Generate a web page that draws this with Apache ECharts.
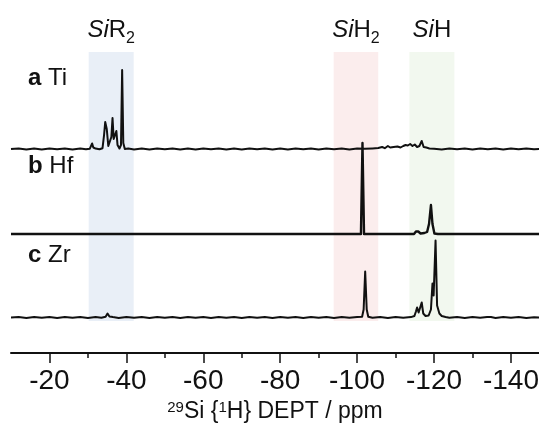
<!DOCTYPE html>
<html>
<head>
<meta charset="utf-8">
<script src="https://cdn.jsdelivr.net/npm/echarts@6/dist/echarts.min.js"></script>
<style>
html,body{margin:0;padding:0;background:#fff;}
#chart{width:539px;height:433px;}
</style>
</head>
<body>
<div id="chart"></div>
<script>
// ---- data (ppm, intensity) ----
const majorTicks = [-20, -40, -60, -80, -100, -120, -140];
const minorTicks = [-30, -50, -70, -90, -110, -130];
const axisName = '{sup|29}Si {{sup|1}H} DEPT / ppm';
const traceLabels = ['a', 'b', 'c'];
const traceMetals = ['Ti', 'Hf', 'Zr'];
const bandNames = ['SiR2', 'SiH2', 'SiH'];
const bandRanges = [[-30.2, -41.9], [-93.9, -105.5], [-113.6, -125.3]];

const traceA = [
  [-10,0],[-12,0.6],[-14,-0.4],[-16,0.5],[-18,-0.5],[-20,0.4],[-22,-0.3],[-24,0.6],[-26,-0.4],[-28,0.4],[-29.5,-0.3],
  [-30.5,0.3],[-30.9,1.5],[-31.1,5.5],[-31.4,1.5],[-32,0.4],[-33,-0.3],[-33.8,0.8],[-34.2,14],[-34.5,27],[-34.9,20],[-35.3,3],
  [-35.8,1],[-36.1,12],[-36.4,31],[-36.7,10],[-37.1,8],[-37.4,18],[-37.7,4],[-38.2,0.5],[-38.6,4],[-38.9,79],[-39.2,6],[-39.6,0],
  [-40.5,0.5],[-42,-0.4],[-44,0.5],[-46,-0.4],[-48,0.5],[-50,-0.3],[-52,0.6],[-54,-0.5],[-56,0.4],[-58,-0.4],[-60,0.5],
  [-62,-0.3],[-64,0.5],[-66,-0.5],[-68,0.4],[-70,-0.4],[-72,0.5],[-74,-0.3],[-76,0.4],[-78,-0.5],[-80,0.5],[-82,-0.4],
  [-84,0.4],[-86,-0.3],[-88,0.5],[-90,-0.4],[-92,0.4],[-94,-0.3],[-96,0.5],[-98,-0.4],[-100,0.4],[-102,0.2],[-104,0.6],
  [-105.5,1],[-106.5,2],[-107.2,0.8],[-108,3],[-108.6,1.5],[-109.5,2],[-110.5,2.5],[-111.3,1.5],[-112,3],[-112.6,4],[-113.2,3.5],
  [-113.8,5],[-114.4,3],[-115,4.5],[-115.6,2],[-116.2,3],[-116.8,8],[-117.3,2],[-118,1.5],[-118.8,0.5],[-120,0.2],
  [-122,-0.4],[-124,0.5],[-126,-0.3],[-128,0.4],[-130,-0.4],[-132,0.5],[-134,-0.3],[-136,0.4],[-138,-0.4],[-140,0.5],
  [-142,-0.3],[-144,0.4],[-146,-0.3],[-148,0]
];
const traceB = [
  [-10,0],[-35.3,0],[-35.8,1.5],[-36.3,0],[-37.3,0],[-37.8,1.5],[-38.3,0],[-38.8,1.5],[-39.3,0],
  [-101.0,0],[-101.4,91],[-101.8,0],
  [-114.8,0],[-115.3,2.5],[-115.9,2.5],[-116.5,0.5],[-117.5,1],[-118.2,2],[-118.7,10],[-119.2,29],[-119.6,10],[-120.1,0.5],[-121,0],
  [-148,0]
];
const traceC = [
  [-10,0],[-12,0.4],[-14,-0.4],[-16,0.5],[-18,-0.3],[-20,0.4],[-22,-0.4],[-24,0.5],[-26,-0.3],[-28,0.4],[-30,-0.4],
  [-32,0.5],[-33.5,-0.3],[-34.6,0.8],[-35.1,4],[-35.6,1],[-36.5,0.4],[-38,-0.4],[-40,0.5],[-42,-0.3],[-44,0.4],[-46,-0.4],
  [-48,0.5],[-50,-0.3],[-52,0.4],[-54,-0.4],[-56,0.5],[-58,-0.3],[-60,0.4],[-62,-0.4],[-64,0.5],[-66,-0.3],[-68,0.4],
  [-70,-0.4],[-72,0.5],[-74,-0.3],[-76,0.4],[-78,-0.4],[-80,0.5],[-82,-0.3],[-84,0.4],[-86,-0.4],[-88,0.5],[-90,-0.3],
  [-92,0.4],[-94,-0.4],[-96,0.5],[-98,-0.3],[-100,0.4],[-101.3,0.8],[-101.7,8],[-102.1,46],[-102.5,8],[-102.9,0.8],
  [-104,-0.3],[-106,0.4],[-108,-0.4],[-110,0.5],[-112,-0.3],[-114,0.4],[-114.9,1.5],[-115.3,6],[-115.6,10],[-116,5],
  [-116.4,10],[-116.8,15],[-117.2,4],[-117.8,1.5],[-118.6,2],[-119.2,8],[-119.6,34],[-119.9,22],[-120.4,77],[-120.8,12],
  [-121.4,4],[-122,1.5],[-123,0.5],[-124,-0.3],[-126,0.5],[-128,-0.4],[-130,0.4],[-132,-0.3],[-133.8,0.5],[-134.3,2.5],
  [-134.8,0.4],[-136,-0.4],[-138,0.5],[-140,-0.3],[-142,0.4],[-144,-0.4],[-146,0.3],[-148,0]
];

// ---- layout (pixels from bottom of plot) ----
const baselines = [204, 119, 35.5];
const bandTop = 301, bandBottom = 32;
const bandColors = ['#e9eff7', '#fbeded', '#f2f8ef'];

const traces = [traceA, traceB, traceC];
const font = '"Liberation Sans", Arial, Helvetica, sans-serif';

function bandLabel(name) {
  if (name === 'SiR2') return '{i|Si}{n|R}{s|2}';
  if (name === 'SiH2') return '{i|Si}{n|H}{s|2}';
  return '{i|Si}{n|H}';
}

const series = traces.map((t, k) => ({
  type: 'line',
  xAxisIndex: 0,
  yAxisIndex: 0,
  showSymbol: false,
  silent: true,
  animation: false,
  lineStyle: { color: '#111', width: k === 1 ? 2.4 : 2, join: 'round' },
  z: 5,
  data: t.map(p => [p[0], p[1] + baselines[k]])
}));

series.push({
  type: 'line',
  xAxisIndex: 0,
  yAxisIndex: 0,
  data: [],
  silent: true,
  animation: false,
  z: 1,
  markArea: {
    silent: true,
    data: bandRanges.map((r, i) => [
      {
        xAxis: r[0], yAxis: bandTop,
        itemStyle: { color: bandColors[i] },
        label: {
          show: true, position: 'top', distance: 10,
          formatter: bandLabel(bandNames[i]),
          rich: {
            i: { fontStyle: 'italic', fontSize: 24, fontFamily: font, color: '#111', verticalAlign: 'bottom', lineHeight: 26 },
            n: { fontSize: 24, fontFamily: font, color: '#111', verticalAlign: 'bottom', lineHeight: 26 },
            s: { fontSize: 16, fontFamily: font, color: '#111', verticalAlign: 'bottom', lineHeight: 16, padding: [0, 0, -5, 0] }
          }
        }
      },
      { xAxis: r[1], yAxis: bandBottom }
    ])
  }
});

const labelY = [79, 167, 256];
const graphics = traceLabels.map((l, i) => ({
  type: 'text',
  left: 28,
  top: labelY[i] - 13,
  style: {
    text: '{b|' + l + '} ' + traceMetals[i],
    fontSize: 24,
    fontFamily: font,
    fill: '#111',
    rich: {
      b: { fontWeight: 'bold', fontSize: 24, fontFamily: font, fill: '#111' }
    }
  }
}));

const chart = echarts.init(document.getElementById('chart'), null, { renderer: 'canvas' });
chart.setOption({
  animation: false,
  backgroundColor: '#fff',
  grid: { left: 11, right: 0, top: 0, bottom: 80, containLabel: false, outerBoundsMode: 'none' },
  xAxis: [
    {
      type: 'value', min: -147.3, max: -10, inverse: true,
      position: 'bottom',
      axisLine: { show: true, lineStyle: { color: '#111', width: 2 } },
      axisTick: { show: true, customValues: majorTicks, length: 10, inside: false, lineStyle: { color: '#111', width: 1.5 } },
      axisLabel: { show: true, customValues: majorTicks, margin: 14, fontSize: 28, fontFamily: font, color: '#111', hideOverlap: false },
      splitLine: { show: false },
      name: axisName,
      nameLocation: 'middle',
      nameGap: 41,
      nameTextStyle: {
        fontSize: 23, fontFamily: font, color: '#111',
        rich: {
          sup: { fontSize: 15, fontFamily: font, color: '#111', verticalAlign: 'top', padding: [0, 0, 9, 0] }
        }
      }
    },
    {
      type: 'value', min: -147.3, max: -10, inverse: true,
      position: 'bottom',
      axisLine: { show: false },
      axisTick: { show: true, customValues: minorTicks, length: 5, lineStyle: { color: '#111', width: 1.5 } },
      axisLabel: { show: false },
      splitLine: { show: false }
    }
  ],
  yAxis: {
    type: 'value', min: 0, max: 353, show: false,
    splitLine: { show: false }
  },
  graphic: graphics,
  series: series
});
</script>
</body>
</html>
